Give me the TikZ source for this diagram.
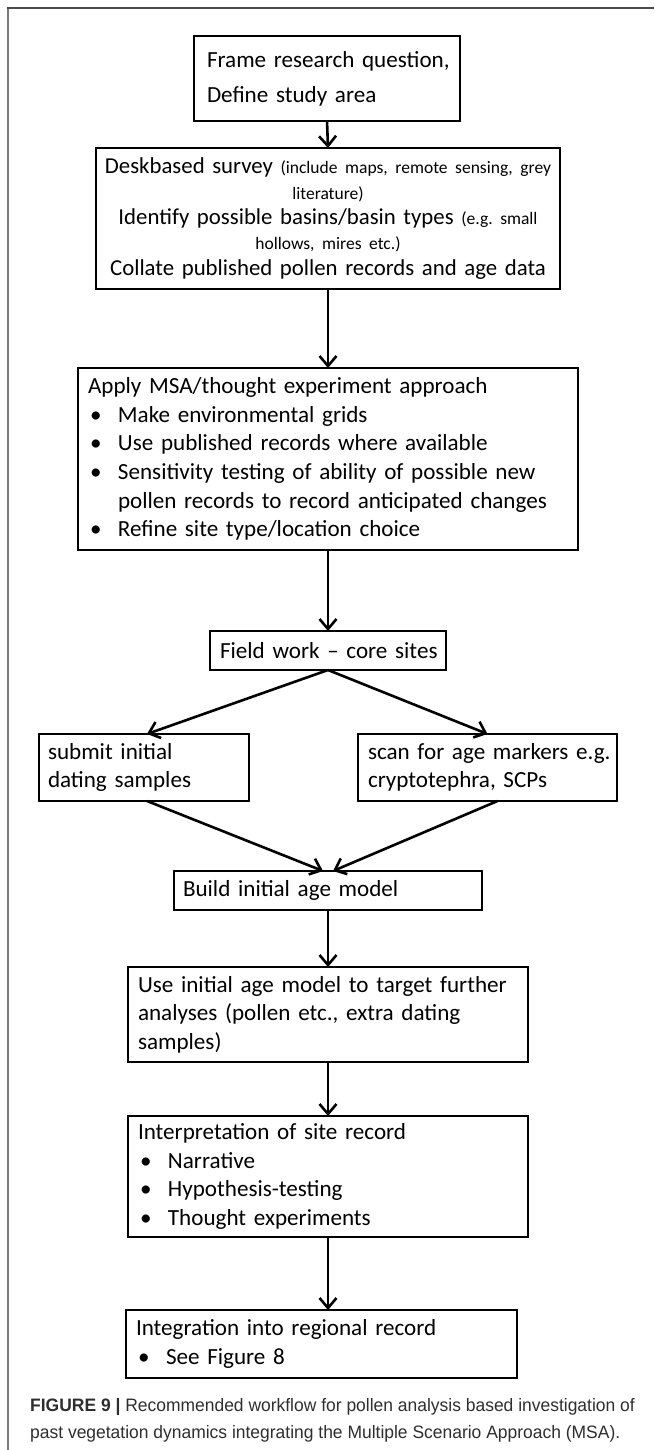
\documentclass[tikz,border=0pt]{standalone}
\usepackage{fontspec}
\setmainfont{Carlito}
\newfontfamily\capfont[FakeStretch=0.97]{Liberation Sans}
\usetikzlibrary{arrows.meta}
\definecolor{framegray}{HTML}{7A7A7A}
\definecolor{topgray}{HTML}{4A4A4A}
\definecolor{capgray}{HTML}{2E2E2E}
\frenchspacing
\newcommand\mybul{\makebox[30pt][l]{\hspace{2pt}•}}
\newcommand\smallsz{\fontsize{17.5}{25.3}\selectfont}
\newcommand\ml[1]{\mbox{#1}}
\tikzset{
  box/.style={draw, line width=2.6pt, inner xsep=10pt, inner ysep=0pt, outer sep=0pt,
    anchor=north west, align=left, font=\fontsize{23.1}{28.6}\selectfont},
  arr/.style={line width=2.6pt, -{Straight Barb[length=10pt,width=17pt]}},
  captxt/.style={anchor=base west, inner sep=0pt, text=capgray, font=\capfont\fontsize{18}{22}\selectfont},
}
\begin{document}
\begin{tikzpicture}[x=1pt,y=-1pt]
\useasboundingbox (0,0) rectangle (654,1450);
% frame
\draw[line width=2pt, framegray] (7.5,8) -- (7.5,1450);
\draw[line width=2pt, topgray] (6.5,8.5) -- (654,8.5);

\node[box, text width=240pt, inner xsep=13pt, minimum height=85pt,
  font=\fontsize{23.1}{35}\selectfont] (b1) at (194,36)
  {\ml{Frame research question,}\\\ml{Define study area}};

\node[box, align=center, text width=456pt, inner xsep=4pt, minimum height=141pt,
  font=\fontsize{22.8}{25.3}\selectfont] (b2) at (96,148)
  {\ml{Deskbased survey {\smallsz(include maps, remote sensing, grey}}\\
   \ml{\smallsz literature)}\\
   \ml{Identify possible basins/basin types {\smallsz(e.g. small}}\\
   \ml{\smallsz hollows, mires etc.)}\\
   \ml{Collate published pollen records and age data}};

\node[box, text width=480pt, minimum height=182pt] (b3) at (78,368)
  {\ml{Apply MSA/thought experiment approach}\\
   \ml{\mybul Make environmental grids}\\
   \ml{\mybul Use published records where available}\\
   \ml{\mybul Sensitivity testing of ability of possible new}\\
   \ml{\hspace*{30pt}pollen records to record anticipated changes}\\
   \ml{\mybul Refine site type/location choice}};

\node[box, align=center, text width=216pt, minimum height=39pt] (field) at (210,631)
  {\ml{Field work -- core sites}};

\node[box, text width=192pt, inner xsep=9pt, minimum height=67pt] (left) at (39,734)
  {\ml{submit initial}\\\ml{dating samples}};

\node[box, text width=239pt, minimum height=67pt] (right) at (358,734)
  {\ml{scan for age markers e.g.}\\\ml{cryptotephra, SCPs}};

\node[box, text width=290pt, inner xsep=9pt, minimum height=39pt] (build) at (174,871)
  {\ml{Build initial age model}};

\node[box, text width=380pt, minimum height=95pt] (use) at (128,967)
  {\ml{Use initial age model to target further}\\
   \ml{analyses (pollen etc., extra dating}\\
   \ml{samples)}};

\node[box, text width=380pt, minimum height=121pt] (interp) at (128,1116)
  {\ml{Interpretation of site record}\\
   \ml{\mybul Narrative}\\
   \ml{\mybul Hypothesis-testing}\\
   \ml{\mybul Thought experiments}};

\node[box, text width=371pt, minimum height=68pt] (integ) at (126,1310)
  {\ml{Integration into regional record}\\
   \ml{\mybul See Figure 8}};

% connectors
\draw[arr] (b1.south) -- (b2.north);
\draw[arr] (b2.south) -- (b3.north);
\draw[arr] (b3.south) -- (field.north);
\draw[arr] (field.south) -- ([xshift=3pt]left.north);
\draw[arr] (field.south) -- (right.north);
\draw[arr] ([xshift=3pt]left.south) -- ([xshift=-5pt]build.north);
\draw[arr] ([xshift=10pt]right.south) -- ([xshift=5pt]build.north);
\draw[arr] (build.south) -- (use.north);
\draw[arr] (use.south) -- (interp.north);
\draw[arr] (interp.south) -- (interp.south |- integ.north);

% caption
\node[captxt] (cap1) at (30,1411)
  {\textbf{FIGURE 9 |} Recommended workflow for pollen analysis based investigation of};
\node[captxt] (cap2) at (30,1438)
  {past vegetation dynamics integrating the Multiple Scenario Approach (MSA).};
\end{tikzpicture}
\end{document}
